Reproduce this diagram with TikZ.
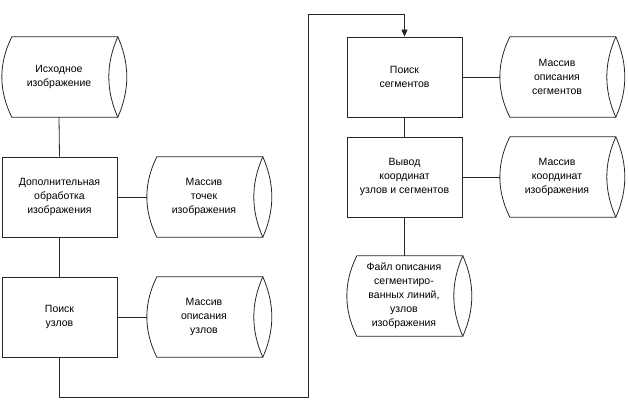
\documentclass[tikz,border=0pt]{standalone}
\usepackage{fontspec}
\setmainfont{Liberation Sans}
\usetikzlibrary{arrows.meta}
\newcommand\storeoutline[1]{%
  \draw[line] ([xshift=10pt]#1.north west) .. controls +(-13.3,27) and +(-13.3,-27) .. ([xshift=10pt]#1.south west) -- ([xshift=116pt]#1.south west) .. controls +(-12,-27) and +(-12,27) .. ([xshift=116pt]#1.north west) -- cycle;
  \draw[line] ([xshift=116pt]#1.north west) .. controls +(12,27) and +(12,-27) .. ([xshift=116pt]#1.south west);
}
\begin{document}
\begin{tikzpicture}[x=1pt,y=-1pt,
  line/.style={draw=black!85, line width=0.8pt},
  procbox/.style={line, rectangle, minimum width=115pt, minimum height=80pt, align=center, inner sep=0pt, font=\fontsize{10.5}{14}\selectfont},
  store/.style={rectangle, minimum width=114pt, minimum height=80pt, align=center, inner sep=0pt, font=\fontsize{10.5}{14}\selectfont}]
\useasboundingbox (0,0) rectangle (628,412);
% left column
\node[store] (s0) at (59,77) {Исходное\\изображение};
\node[procbox] (b1) at (59.5,197) {Дополнительная\\обработка\\изображения};
\node[store] (s1) at (204,197) {Массив\\точек\\изображения};
\node[procbox] (b2) at (59.5,317) {Поиск\\узлов};
\node[store] (s2) at (204,317) {Массив\\описания\\узлов};
% right column
\node[procbox] (b3) at (404.5,77) {Поиск\\сегментов};
\node[store] (s3) at (557,77) {Массив\\описания\\сегментов};
\node[procbox] (b4) at (404.5,177) {Вывод\\координат\\узлов и сегментов};
\node[store] (s4) at (557,177) {Массив\\координат\\изображения};
\node[store] (s5) at (404,296) {Файл описания\\сегментиро-\\ванных линий,\\узлов\\изображения};
\storeoutline{s0}
\storeoutline{s1}
\storeoutline{s2}
\storeoutline{s3}
\storeoutline{s4}
\storeoutline{s5}
\coordinate (lo) at (308,397);
\coordinate (hi) at (308,14);
% connectors
\draw[line] (s0.south) -- (b1.north);
\draw[line] (b1.east) -- (s1.west);
\draw[line] (b1.south) -- (b2.north);
\draw[line] (b2.east) -- (s2.west);
\draw[line, -{Triangle[length=7pt,width=6pt]}] (b2.south) |- (lo) -- (hi) -| (b3.north);
\draw[line] (b3.east) -- (s3.west);
\draw[line] (b3.south) -- (b4.north);
\draw[line] (b4.east) -- (s4.west);
\draw[line] (b4.south) -- (b4.south |- s5.north);
\end{tikzpicture}
\end{document}
